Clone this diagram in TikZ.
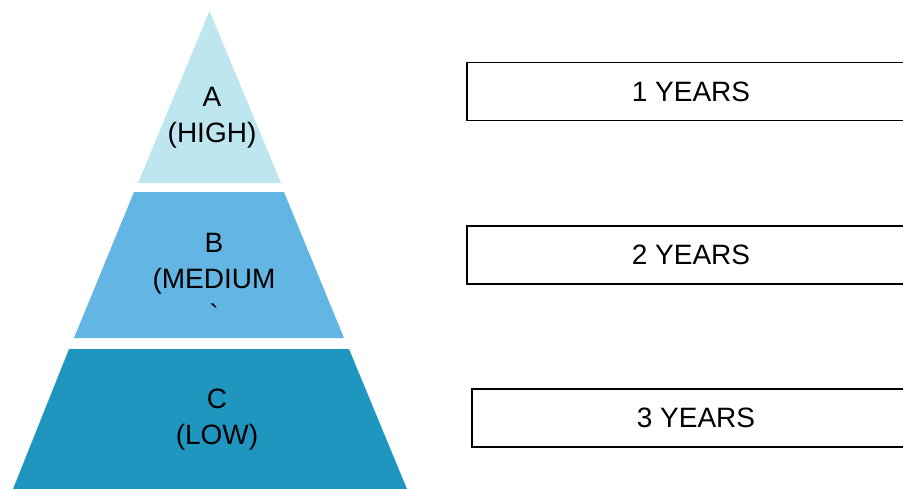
\documentclass[tikz,border=0pt]{standalone}
\usepackage{fontspec}
\setmainfont{Liberation Sans}
\newfontfamily\rawfont{Liberation Sans}[Ligatures=TeXOff]

\definecolor{tierhigh}{RGB}{190,230,238}
\definecolor{tiermed}{RGB}{99,181,228}
\definecolor{tierlow}{RGB}{30,150,192}

\begin{document}
\begin{tikzpicture}[x=1pt,y=-1pt,
  label/.style={align=center,font=\fontsize{28}{36}\selectfont},
  yearbox/.style={draw=black,line width=1.6pt,minimum width=448pt,minimum height=58pt,
    font=\fontsize{28}{36}\selectfont}]

\useasboundingbox (0,0) rectangle (903,488);
\clip (0,0) rectangle (903,488);

% Define vertices of the tiers
\coordinate (top) at (209.5,11);
\coordinate (A1) at (138,183);
\coordinate (A2) at (281,183);
\coordinate (B1) at (134,192);
\coordinate (B2) at (284,192);
\coordinate (B3) at (344,338);
\coordinate (B4) at (74,338);
\coordinate (C1) at (69,349);
\coordinate (C2) at (349,349);
\coordinate (C3) at (407,489);
\coordinate (C4) at (13,489);

% Draw the pyramid
\fill[tierhigh] (top) -- (A2) -- (A1) -- cycle;
\fill[tiermed] (B1) -- (B2) -- (B3) -- (B4) -- cycle;
\fill[tierlow] (C1) -- (C2) -- (C3) -- (C4) -- cycle;

% Tier labels
\node[label] (high) at (212,118) {A\\(HIGH)};
\node[label] (medium) at (214,278.5) {B\\(MEDIUM\\{\rawfont\symbol{96}}};
\node[label] (low) at (217,420) {C\\(LOW)};

% Year boxes
\node[yearbox] (one) at (691,91.5) {1 YEARS};
\node[yearbox] (two) at (691,255) {2 YEARS};
\node[yearbox] (three) at (696,418) {3 YEARS};

\end{tikzpicture}
\end{document}
